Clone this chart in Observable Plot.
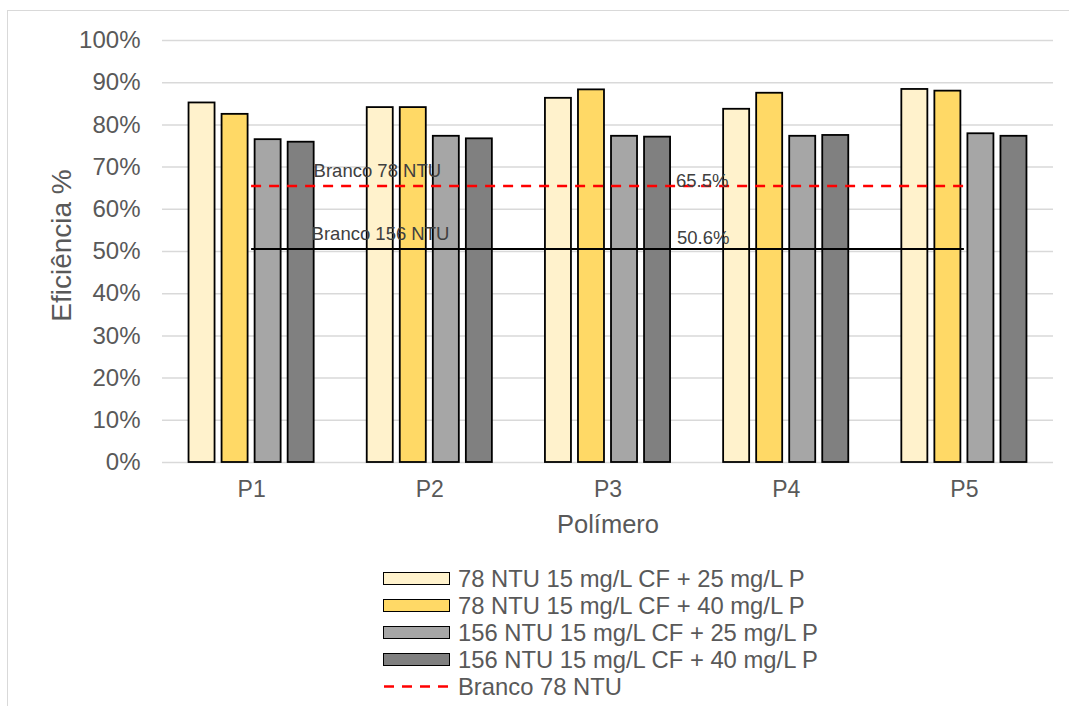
<!DOCTYPE html>
<html><head><meta charset="utf-8">
<script src="https://cdn.jsdelivr.net/npm/d3@7"></script>
<script src="https://cdn.jsdelivr.net/npm/@observablehq/plot@0.6"></script>
<style>
body{margin:0;background:#fff;font-family:"Liberation Sans",Arial,sans-serif;overflow:hidden;}
#frame{position:absolute;left:7px;top:10px;width:1100px;height:760px;border:1.5px solid #d9d9d9;box-sizing:border-box;}
#chart{position:absolute;left:0;top:0;}
#legend{position:absolute;left:383px;top:565px;color:#595959;font-size:23.8px;}
.row{display:flex;align-items:center;height:27px;}
.sw{width:67px;height:13px;box-sizing:border-box;border:1.8px solid #000;margin-right:8px;}
</style></head><body>
<div id="frame"></div><div id="chart"></div><div id="legend"></div>
<script>
const categories = ["P1", "P2", "P3", "P4", "P5"];
const seriesNames = [
  "78 NTU 15 mg/L CF + 25 mg/L P",
  "78 NTU 15 mg/L CF + 40 mg/L P",
  "156 NTU 15 mg/L CF + 25 mg/L P",
  "156 NTU 15 mg/L CF + 40 mg/L P"
];
const s78_25 = [85.2, 84.1, 86.3, 83.7, 88.4];
const s78_40 = [82.5, 84.1, 88.3, 87.5, 88.0];
const s156_25 = [76.5, 77.3, 77.3, 77.3, 77.9];
const s156_40 = [75.9, 76.7, 77.1, 77.5, 77.3];
const branco78 = 65.5;
const branco156 = 50.6;
const blankNames = ["Branco 78 NTU", "Branco 156 NTU"];
const yTicks = [0, 10, 20, 30, 40, 50, 60, 70, 80, 90, 100];
const colors = ["#FFF2CC", "#FFD966", "#A6A6A6", "#808080"];

const seriesValues = [s78_25, s78_40, s156_25, s156_40];
const rows = [];
seriesValues.forEach((vals, j) => vals.forEach((v, i) => rows.push({i, j, v, s: seriesNames[j]})));

const step = 0.1854, bw = 0.146;
const pos = d => d.i + (d.j - 1.5) * step;

const chart = Plot.plot({
  width: 1069, height: 550,
  marginLeft: 162, marginRight: 16, marginTop: 40, marginBottom: 88,
  style: {fontFamily: '"Liberation Sans", Arial, sans-serif', background: "transparent"},
  x: {domain: [-0.5, 4.5], axis: null},
  y: {domain: [0, 100], axis: null},
  color: {domain: seriesNames, range: colors},
  marks: [
    Plot.gridY(yTicks, {stroke: "#d9d9d9", strokeOpacity: 1, strokeWidth: 1.5}),
    Plot.axisY(yTicks, {tickSize: 0, tickPadding: 22, tickFormat: d => d + "%", fontSize: 24, fill: "#595959", label: null}),
    Plot.axisX([0, 1, 2, 3, 4], {tickSize: 0, tickPadding: 18, tickFormat: i => categories[i], fontSize: 23, fill: "#595959", label: null}),
    Plot.text(["Eficiência %"], {frameAnchor: "left", textAnchor: "middle", dx: -100, dy: -6, rotate: -90, fontSize: 28, fill: "#595959"}),
    Plot.text(["Polímero"], {frameAnchor: "bottom", dy: 70, fontSize: 25.5, fill: "#595959"}),
    Plot.rectY(rows, {x1: d => pos(d) - bw / 2, x2: d => pos(d) + bw / 2, y: "v", fill: "s", stroke: "#000", strokeWidth: 1.8}),
    Plot.ruleY([branco156], {x1: 0, x2: 4, stroke: "#000", strokeWidth: 2}),
    Plot.ruleY([branco78], {x1: 0, x2: 4, stroke: "#ff0000", strokeWidth: 2.5, strokeDasharray: "10,8"}),
    Plot.text([branco78], {x: 0, y: d => d, text: () => blankNames[0], textAnchor: "start", dx: 62, dy: -15, fontSize: 18.5, fill: "#404040"}),
    Plot.text([branco156], {x: 0, y: d => d, text: () => blankNames[1], textAnchor: "start", dx: 60, dy: -15, fontSize: 18.5, fill: "#404040"}),
    Plot.text([branco78], {x: 2, y: d => d, text: d => d.toFixed(1) + "%", textAnchor: "start", dx: 68, dy: -5, fontSize: 18.5, fill: "#404040"}),
    Plot.text([branco156], {x: 2, y: d => d, text: d => d.toFixed(1) + "%", textAnchor: "start", dx: 69, dy: -11, fontSize: 18.5, fill: "#404040"})
  ]
});
document.getElementById("chart").appendChild(chart);

const legend = document.getElementById("legend");
seriesNames.forEach((name, j) => {
  const r = document.createElement("div");
  r.className = "row";
  r.innerHTML = `<div class="sw" style="background:${colors[j]}"></div><span>${name}</span>`;
  legend.appendChild(r);
});
const r = document.createElement("div");
r.className = "row";
r.innerHTML = `<svg width="67" height="13" style="margin-right:8px"><line x1="1" y1="6.5" x2="66" y2="6.5" stroke="#ff0000" stroke-width="2.5" stroke-dasharray="10,8"/></svg><span>${blankNames[0]}</span>`;
legend.appendChild(r);
</script>
</body></html>
